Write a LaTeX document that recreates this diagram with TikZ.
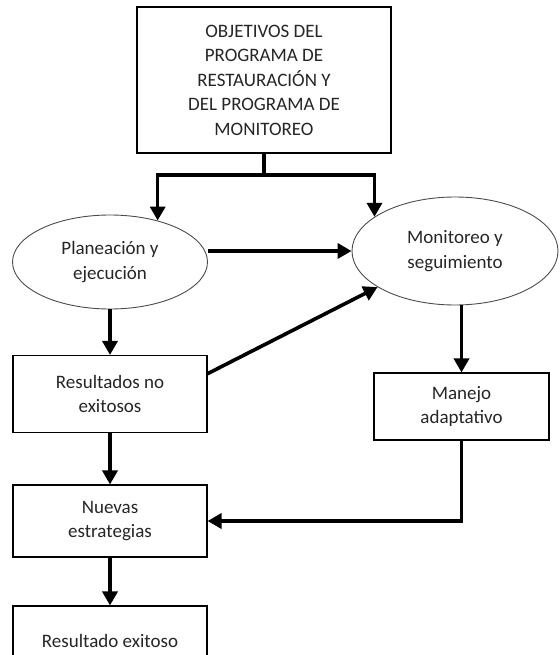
\documentclass[tikz,border=0pt]{standalone}
\usepackage{fontspec}
\setmainfont{Carlito}
\usetikzlibrary{shapes.geometric,arrows.meta,calc}
\tikzset{
  boxnode/.style={draw=black, line width=1.1pt, rectangle, inner sep=0pt, align=center,
    text=black!85, font=\fontsize{19}{24.5}\selectfont},
  ovalnode/.style={draw=black!70, line width=0.9pt, ellipse, inner sep=0pt, align=center,
    text=black!85, font=\fontsize{19}{24.5}\selectfont},
  flow/.style={line width=3.6pt, -{Triangle[length=14pt,width=15pt]}},
  flowplain/.style={line width=3.6pt}
}
\begin{document}
\begin{tikzpicture}[x=1pt,y=-1pt]
  \clip (0,0) rectangle (559,655);
  \fill[white] (0,0) rectangle (559,655);

  % boxes and ovals
  \node[boxnode, minimum width=254pt, minimum height=146pt] (obj) at (264,80)
    {OBJETIVOS DEL\\PROGRAMA DE\\RESTAURACIÓN Y\\DEL PROGRAMA DE\\MONITOREO};
  \node[ovalnode, minimum width=195pt, minimum height=94pt] (plan) at (110,262)
    {Planeación y\\ejecución};
  \node[ovalnode, minimum width=206pt, minimum height=108pt] (mon) at (455,251)
    {Monitoreo y\\seguimiento};
  \node[boxnode, minimum width=194pt, minimum height=77pt] (res) at (110,394)
    {Resultados no\\exitosos};
  \node[boxnode, minimum width=175pt, minimum height=67pt] (man) at (461.5,406.5)
    {Manejo\\adaptativo};
  \node[boxnode, minimum width=194pt, minimum height=72pt] (nue) at (110,521)
    {Nuevas\\estrategias};
  \node[boxnode, minimum width=194pt, minimum height=70pt] (ex) at (110,641)
    {Resultado exitoso};

  % split below the objectives box
  \coordinate (jn) at (264,175);
  \draw[flowplain] (obj.south) -- (jn);
  \draw[flow] ([xshift=1.8pt]jn) -| (plan.41);
  \draw[flow] ([xshift=-1.8pt]jn) -| (mon.157.6);

  % main flow
  \draw[flow] (mon.west -| plan.east) -- (mon.west);
  \draw[flow] (plan.south) -- (res.north);
  \draw[flow] ($(res.north east)!0.24!(res.south east)$) -- (mon.205);
  \draw[flow] (mon.south -| man.north) -- (man.north);
  \draw[flow] (man.south) |- (nue.east);
  \draw[flow] (res.south) -- (nue.north);
  \draw[flow] (nue.south) -- (ex.north);
\end{tikzpicture}
\end{document}
